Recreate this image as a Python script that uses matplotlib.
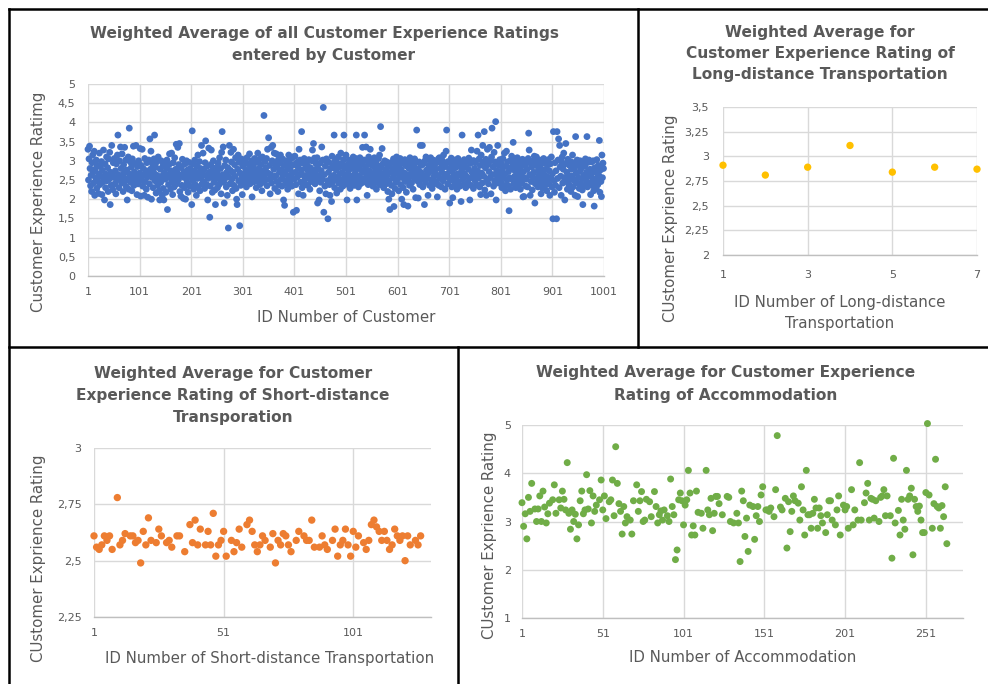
import matplotlib
matplotlib.use("Agg")
import matplotlib.pyplot as plt
from matplotlib.lines import Line2D
from matplotlib.ticker import FuncFormatter, FixedLocator

plt.rcParams['font.family'] = ['DejaVu Sans']

# ---------------- data ----------------
customer_ratings = [
    3.30, 2.50, 3.05, 3.38, 2.80, 2.35, 2.62, 2.20, 2.95, 3.15, 2.70, 2.42, 3.25, 2.10, 2.78, 2.55, 3.02, 2.28, 2.88, 2.48, 2.15, 2.66, 3.20, 2.38, 2.85,
    2.60, 2.98, 2.12, 2.75, 2.45, 3.28, 2.55, 1.98, 2.92, 2.30, 2.65, 3.10, 2.48, 2.82, 2.20, 3.05, 2.52, 3.22, 1.86, 2.70, 2.36, 3.40, 2.62, 2.25, 2.95,
    2.57, 3.06, 2.40, 2.74, 2.14, 2.92, 2.50, 3.15, 3.67, 2.64, 2.30, 3.00, 2.54, 3.36, 2.80, 2.42, 3.18, 2.60, 2.20, 2.90, 2.68, 3.35, 2.47, 3.02, 2.33,
    2.76, 1.98, 2.54, 3.10, 2.26, 3.85, 2.65, 2.97, 2.44, 2.83, 2.22, 3.05, 2.58, 3.38, 2.36, 2.71, 2.93, 2.50, 3.40, 2.62, 2.12, 2.85, 2.40, 3.00, 2.56,
    2.68, 3.32, 2.08, 2.88, 2.50, 3.30, 2.34, 2.80, 2.63, 2.10, 3.06, 2.46, 2.74, 2.26, 2.95, 2.58, 2.05, 2.66, 3.02, 2.40, 3.57, 2.78, 3.25, 2.00, 2.57,
    2.92, 2.30, 2.71, 3.05, 3.67, 2.48, 2.84, 2.16, 2.97, 2.62, 2.36, 3.10, 2.54, 2.22, 1.98, 2.78, 2.44, 3.00, 2.60, 2.10, 2.86, 2.28, 1.98, 2.68, 2.95,
    2.52, 2.18, 2.80, 3.02, 1.73, 2.64, 2.38, 2.90, 3.18, 2.56, 2.26, 2.74, 3.20, 2.45, 2.12, 2.95, 2.66, 2.32, 3.08, 2.55, 2.78, 3.43, 2.40, 2.70, 3.35,
    2.50, 2.90, 3.45, 2.20, 2.62, 2.08, 2.82, 2.36, 3.04, 2.58, 2.02, 2.70, 2.30, 2.92, 2.00, 2.54, 3.00, 2.44, 2.76, 2.18, 2.64, 2.96, 2.34, 2.80, 2.58,
    2.68, 1.86, 3.78, 2.48, 2.92, 2.26, 2.74, 3.02, 2.38, 2.62, 2.10, 2.86, 2.54, 3.15, 2.32, 2.70, 2.98, 2.22, 2.80, 2.56, 3.40, 2.40, 2.66, 3.20, 2.46,
    2.78, 2.28, 2.95, 3.52, 2.62, 2.38, 2.86, 1.98, 2.54, 3.33, 2.70, 1.53, 2.34, 2.90, 3.28, 2.58, 2.18, 2.78, 3.00, 2.44, 2.66, 2.24, 1.86, 2.82, 2.55,
    2.72, 2.30, 2.94, 2.60, 2.38, 3.08, 2.50, 2.80, 2.14, 3.22, 3.76, 2.64, 3.36, 2.44, 1.90, 2.88, 2.55, 3.02, 2.32, 2.70, 2.10, 2.82, 1.25, 2.58, 3.40,
    2.40, 2.75, 3.22, 2.97, 2.52, 2.22, 2.70, 3.30, 2.36, 2.90, 2.60, 3.08, 2.28, 2.00, 1.86, 2.78, 3.15, 2.48, 2.96, 1.31, 2.68, 2.36, 3.05, 2.56, 2.12,
    2.86, 2.64, 3.02, 2.44, 2.94, 2.54, 2.76, 2.32, 3.08, 2.60, 2.92, 2.48, 2.70, 3.18, 2.40, 2.82, 2.57, 3.00, 2.06, 2.66, 2.88, 2.45, 2.78, 3.06, 2.54,
    2.72, 2.30, 2.96, 2.62, 3.20, 2.46, 2.80, 3.04, 2.38, 2.68, 2.90, 2.56, 2.22, 3.10, 2.74, 2.44, 4.18, 2.62, 2.98, 2.50, 2.82, 3.06, 2.35, 3.30, 2.68,
    3.60, 2.52, 2.88, 2.14, 2.64, 3.35, 2.42, 3.00, 3.40, 2.58, 2.78, 3.20, 2.28, 2.93, 2.61, 3.18, 2.46, 2.84, 2.20, 3.03, 2.38, 2.70, 2.95, 3.15, 2.52,
    2.76, 2.34, 3.05, 2.63, 1.98, 2.88, 1.84, 2.48, 2.72, 3.00, 2.40, 2.85, 2.26, 2.60, 3.15, 2.94, 2.44, 2.78, 2.55, 3.06, 2.34, 2.68, 3.10, 1.66, 2.90,
    2.52, 3.12, 2.70, 2.38, 1.71, 2.96, 2.58, 2.84, 2.14, 3.30, 2.64, 3.02, 2.44, 2.76, 3.76, 2.30, 2.94, 2.10, 2.62, 3.06, 2.50, 2.80, 2.38, 2.98, 2.60,
    2.88, 2.36, 2.72, 3.03, 2.54, 2.26, 2.82, 2.64, 2.46, 3.00, 3.28, 2.56, 3.45, 2.76, 3.07, 2.40, 2.68, 2.92, 2.50, 3.08, 1.90, 2.80, 2.60, 1.98, 2.22,
    2.94, 2.44, 2.74, 3.36, 2.52, 3.02, 4.39, 1.66, 2.64, 2.34, 2.86, 2.14, 3.05, 3.00, 2.48, 1.49, 2.70, 2.96, 2.38, 2.10, 2.80, 2.56, 1.94, 3.12, 2.44,
    2.88, 2.62, 3.67, 2.30, 3.00, 2.52, 2.76, 2.16, 2.95, 2.58, 3.10, 2.42, 2.84, 2.66, 2.26, 3.20, 2.50, 2.92, 2.70, 2.34, 3.03, 3.67, 2.56, 2.82, 2.44,
    3.15, 2.64, 1.98, 2.90, 2.38, 2.74, 3.02, 2.52, 2.28, 2.86, 2.60, 2.97, 2.45, 2.80, 3.10, 2.56, 2.36, 2.94, 2.68, 3.06, 3.67, 1.98, 2.48, 2.82, 2.32,
    2.96, 2.60, 3.08, 2.40, 2.76, 2.54, 2.92, 3.35, 2.44, 2.70, 3.02, 3.67, 2.50, 2.84, 3.36, 2.62, 2.10, 2.98, 2.38, 3.10, 2.74, 2.55, 3.30, 2.90, 2.46,
    2.66, 3.03, 2.34, 2.86, 2.56, 3.08, 2.42, 2.76, 2.95, 2.26, 2.62, 2.88, 2.50, 3.06, 2.70, 3.15, 2.38, 3.89, 2.82, 2.60, 3.32, 2.48, 2.93, 2.30, 2.68,
    3.00, 2.54, 2.78, 2.40, 2.97, 2.62, 2.20, 2.87, 2.00, 2.48, 1.73, 2.70, 2.95, 2.36, 2.14, 2.80, 2.56, 3.05, 1.81, 2.66, 2.28, 2.90, 2.44, 3.10, 2.74,
    2.52, 2.97, 2.22, 2.82, 2.62, 3.06, 2.38, 2.76, 2.00, 2.93, 2.56, 2.30, 1.86, 2.68, 3.03, 2.46, 2.87, 2.18, 2.64, 2.98, 1.82, 2.50, 2.80, 2.36, 3.08,
    2.60, 2.92, 2.42, 2.72, 3.00, 2.26, 2.84, 2.56, 3.05, 2.66, 2.04, 2.95, 3.80, 2.48, 2.78, 2.03, 2.62, 2.97, 2.38, 3.40, 2.70, 2.88, 2.52, 3.40, 2.32,
    2.92, 2.62, 1.86, 3.00, 2.44, 3.10, 2.76, 2.55, 3.04, 2.10, 2.68, 2.88, 2.36, 2.82, 3.08, 2.50, 2.96, 2.28, 2.72, 3.02, 2.58, 2.40, 2.90, 2.64, 2.78,
    2.46, 2.97, 2.06, 2.62, 3.05, 2.36, 3.08, 2.80, 2.54, 2.94, 2.32, 2.70, 3.00, 2.48, 3.15, 2.84, 2.60, 2.26, 2.92, 3.25, 3.80, 2.66, 2.40, 2.98, 2.56,
    2.80, 1.90, 2.95, 2.50, 3.07, 2.32, 2.72, 2.04, 2.88, 2.62, 3.02, 2.40, 2.82, 2.55, 2.97, 2.26, 2.66, 3.06, 2.46, 2.86, 2.64, 2.34, 2.94, 1.94, 2.74,
    3.67, 2.52, 2.90, 2.38, 3.03, 2.66, 2.84, 2.30, 2.60, 2.98, 3.00, 2.44, 2.78, 3.07, 2.54, 1.98, 2.93, 2.36, 3.28, 2.70, 2.56, 3.00, 2.28, 3.00, 2.80,
    2.48, 2.95, 2.64, 2.38, 3.25, 2.74, 3.67, 2.55, 3.05, 2.32, 2.88, 2.12, 3.15, 2.68, 2.42, 3.40, 2.97, 2.60, 3.76, 2.24, 2.82, 3.04, 2.10, 2.50, 3.30,
    2.90, 2.40, 2.72, 3.35, 2.56, 3.00, 2.14, 3.10, 3.85, 2.64, 2.84, 2.34, 3.22, 2.48, 2.97, 4.02, 1.98, 2.74, 2.60, 3.40, 2.42, 2.88, 2.54, 3.03, 2.68,
    2.46, 2.93, 2.30, 2.78, 3.06, 2.58, 2.36, 3.20, 2.66, 2.22, 2.86, 3.25, 2.50, 2.97, 2.36, 2.72, 1.70, 2.56, 3.00, 2.26, 2.82, 3.12, 2.52, 2.95, 3.48,
    2.40, 2.76, 2.60, 3.05, 2.30, 2.90, 2.48, 3.08, 2.68, 2.38, 3.00, 2.55, 2.80, 2.26, 2.93, 2.62, 2.42, 3.04, 2.06, 2.72, 2.07, 2.56, 2.88, 2.34, 2.97,
    2.52, 2.78, 2.32, 3.06, 3.72, 3.28, 2.64, 2.10, 2.93, 2.46, 2.84, 2.24, 3.00, 2.56, 2.70, 3.12, 1.90, 2.40, 2.88, 3.10, 2.54, 2.96, 2.32, 2.76, 2.62,
    3.02, 2.42, 2.82, 2.14, 2.56, 2.94, 2.28, 2.68, 3.06, 2.48, 2.76, 2.36, 2.97, 2.60, 2.22, 2.88, 2.52, 3.03, 2.40, 2.74, 2.10, 2.92, 2.56, 3.10, 2.32,
    2.66, 1.49, 3.76, 2.48, 2.18, 2.95, 2.36, 2.74, 1.49, 3.76, 2.54, 3.02, 3.57, 2.30, 3.40, 2.84, 2.60, 2.10, 2.97, 3.10, 2.42, 2.78, 3.20, 2.56, 1.98,
    2.92, 3.45, 2.46, 2.70, 2.26, 3.04, 2.62, 2.38, 2.88, 2.52, 2.98, 2.20, 2.78, 2.60, 3.15, 2.32, 2.95, 2.48, 2.82, 2.10, 3.63, 2.68, 2.42, 3.02, 2.07,
    2.56, 2.88, 2.28, 2.72, 3.00, 2.40, 2.80, 2.54, 2.24, 1.86, 2.94, 2.62, 2.36, 2.86, 3.05, 2.50, 2.70, 3.63, 2.32, 2.96, 2.60, 3.02, 2.42, 2.78, 2.12,
    2.66, 2.97, 2.36, 2.54, 3.00, 2.22, 1.82, 2.82, 2.48, 2.70, 2.28, 3.03, 2.56, 2.38, 2.88, 2.62, 3.53, 2.18, 2.76, 2.46, 2.07, 3.15, 2.56, 2.94, 2.80,
]
customer_ids = list(range(1, len(customer_ratings) + 1))

long_ids = [1, 2, 3, 4, 5, 6, 7]
long_ratings = [2.91, 2.81, 2.89, 3.11, 2.84, 2.89, 2.87]

short_ids = [1, 2, 3, 4, 5, 6, 7, 8, 10, 11, 12, 13, 15, 16, 17, 18, 19, 20, 21, 22,
             23, 25, 26, 27, 29, 30, 31, 33, 34, 36, 38, 39, 40, 41, 42, 44, 45, 46, 47, 48,
             49, 50, 51, 52, 54, 55, 56, 57, 58, 60, 61, 62, 63, 64, 65, 66, 67, 69, 70, 71,
             72, 73, 74, 75, 76, 77, 79, 80, 82, 83, 84, 85, 86, 88, 89, 90, 91, 93, 94, 95,
             96, 97, 98, 99, 100, 101, 102, 103, 105, 106, 107, 108, 109, 110, 111, 112, 113, 114, 115, 116,
             117, 118, 119, 120, 121, 122, 123, 125, 126, 127]
short_ratings = [2.61, 2.56, 2.55, 2.57, 2.61, 2.59, 2.61, 2.55, 2.78, 2.57, 2.59, 2.62, 2.61, 2.61, 2.58, 2.59, 2.49, 2.63, 2.57, 2.69,
                 2.59, 2.58, 2.64, 2.61, 2.58, 2.59, 2.56, 2.61, 2.61, 2.54, 2.66, 2.58, 2.68, 2.57, 2.64, 2.57, 2.63, 2.57, 2.71, 2.52,
                 2.57, 2.59, 2.63, 2.52, 2.59, 2.54, 2.58, 2.64, 2.56, 2.66, 2.68, 2.63, 2.57, 2.54, 2.57, 2.61, 2.59, 2.56, 2.62, 2.49,
                 2.59, 2.57, 2.62, 2.61, 2.57, 2.54, 2.59, 2.63, 2.61, 2.59, 2.59, 2.68, 2.56, 2.56, 2.61, 2.57, 2.55, 2.59, 2.64, 2.52,
                 2.57, 2.59, 2.64, 2.57, 2.52, 2.63, 2.56, 2.61, 2.58, 2.55, 2.59, 2.66, 2.68, 2.65, 2.63, 2.59, 2.63, 2.59, 2.55, 2.57,
                 2.64, 2.61, 2.59, 2.61, 2.50, 2.61, 2.57, 2.59, 2.57, 2.61]

accom_ids = [1, 2, 3, 4, 5, 6, 7, 9, 10, 11, 12, 13, 14, 15, 16, 17, 18, 20, 21, 22,
             24, 25, 26, 27, 28, 29, 30, 31, 32, 33, 34, 35, 36, 37, 38, 39, 40, 41, 42, 43,
             44, 45, 46, 47, 49, 50, 51, 52, 53, 55, 56, 57, 58, 59, 60, 61, 62, 63, 64, 65,
             66, 68, 69, 70, 72, 73, 74, 75, 76, 77, 78, 80, 81, 83, 84, 85, 86, 87, 88, 89,
             91, 92, 93, 94, 95, 96, 97, 98, 99, 100, 101, 102, 103, 104, 105, 106, 107, 108, 109, 110,
             112, 113, 115, 116, 117, 118, 119, 120, 121, 122, 123, 125, 128, 129, 130, 132, 134, 135, 136, 137,
             138, 139, 140, 141, 142, 144, 145, 146, 147, 148, 149, 150, 152, 153, 154, 155, 157, 158, 159, 161,
             162, 164, 165, 166, 167, 168, 169, 170, 172, 173, 174, 175, 176, 177, 178, 179, 180, 181, 182, 183,
             184, 185, 186, 187, 189, 190, 191, 192, 193, 195, 196, 197, 198, 200, 201, 202, 203, 205, 206, 207,
             209, 210, 211, 213, 214, 215, 216, 217, 218, 219, 220, 222, 223, 224, 225, 226, 227, 229, 230, 231,
             232, 234, 235, 236, 237, 238, 239, 240, 241, 242, 243, 244, 245, 246, 247, 248, 249, 250, 251, 252,
             253, 255, 256, 257, 258, 259, 260, 261, 262, 263, 264]
accom_ratings = [3.39, 2.90, 3.16, 2.64, 3.50, 3.21, 3.79, 3.26, 3.00, 3.26, 3.53, 3.00, 3.63, 3.30, 2.97, 3.16, 3.38, 3.45, 3.76, 3.17,
                 3.45, 3.28, 3.63, 3.46, 3.24, 4.22, 3.17, 2.84, 3.24, 3.00, 3.15, 2.64, 2.93, 3.43, 3.63, 3.16, 3.24, 3.97, 3.26, 3.64,
                 2.97, 3.53, 3.21, 3.34, 3.45, 3.86, 3.24, 3.53, 3.06, 3.41, 3.45, 3.86, 3.12, 4.55, 3.79, 3.37, 3.21, 2.74, 3.31, 2.97,
                 3.10, 3.03, 2.74, 3.43, 3.76, 3.21, 3.43, 3.62, 3.00, 3.03, 3.46, 3.41, 3.10, 3.62, 3.31, 2.97, 3.14, 3.22, 3.03, 3.24,
                 3.12, 3.00, 3.88, 3.31, 3.14, 2.21, 2.41, 3.45, 3.59, 3.43, 2.93, 3.34, 3.45, 4.06, 3.59, 2.72, 2.91, 2.72, 3.63, 3.19,
                 3.17, 2.86, 4.06, 3.24, 3.14, 3.48, 2.81, 3.17, 3.52, 3.52, 3.37, 3.14, 3.52, 3.50, 3.00, 2.97, 3.17, 2.97, 2.17, 3.63,
                 3.43, 2.69, 3.07, 2.38, 3.34, 3.31, 2.63, 3.12, 3.31, 3.00, 3.55, 3.72, 3.24, 3.24, 3.21, 3.28, 3.10, 3.66, 4.78, 3.30,
                 3.24, 3.48, 2.45, 3.41, 2.79, 3.21, 3.53, 3.43, 3.38, 3.03, 3.72, 3.24, 2.72, 4.06, 3.14, 3.14, 2.86, 3.17, 3.46, 3.28,
                 2.86, 3.28, 3.12, 2.97, 2.77, 3.14, 3.43, 3.43, 3.03, 2.93, 3.24, 3.53, 2.72, 3.34, 3.24, 3.31, 2.86, 3.66, 2.93, 3.24,
                 3.03, 4.22, 3.03, 3.39, 3.59, 3.79, 3.03, 3.48, 3.46, 3.07, 3.43, 3.00, 3.50, 3.53, 3.66, 3.12, 3.53, 3.12, 2.24, 4.31,
                 2.97, 3.23, 2.72, 3.46, 3.03, 2.84, 4.06, 3.46, 3.53, 3.69, 2.31, 3.46, 3.31, 3.21, 3.32, 3.03, 2.77, 2.77, 3.60, 5.03,
                 3.55, 2.86, 3.37, 4.29, 3.31, 3.28, 2.86, 3.33, 3.10, 3.72, 2.54]

customer_xticks = [1, 101, 201, 301, 401, 501, 601, 701, 801, 901, 1001]
customer_yticks = [0, 0.5, 1, 1.5, 2, 2.5, 3, 3.5, 4, 4.5, 5]
long_xticks = [1, 3, 5, 7]
long_yticks = [2, 2.25, 2.5, 2.75, 3, 3.25, 3.5]
short_xticks = [1, 51, 101]
short_yticks = [2.25, 2.5, 2.75, 3]
accom_xticks = [1, 51, 101, 151, 201, 251]
accom_yticks = [1, 2, 3, 4, 5]

# ---------------- styling ----------------
W, H = 988, 684
TXT = '#595959'
GRID = '#d9d9d9'
TITLE_FS = 11.1
LABEL_FS = 10.8
TICK_FS = 8
fig = plt.figure(figsize=(W / 100, H / 100), dpi=100)
fig.patch.set_facecolor('white')


def rect(l, t, r, b):
    return [l / W, 1 - b / H, (r - l) / W, (b - t) / H]


def fx(x):
    return x / W


def fy(y):
    return 1 - y / H


def comma(v, pos=None):
    return ('%g' % v).replace('.', ',')


def style(ax, xticks, yticks, xlim, ylim, xpad, ypad):
    ax.set_xlim(*xlim)
    ax.set_ylim(*ylim)
    ax.xaxis.set_major_locator(FixedLocator(xticks))
    ax.yaxis.set_major_locator(FixedLocator(yticks))
    ax.yaxis.set_major_formatter(FuncFormatter(comma))
    ax.xaxis.set_major_formatter(FuncFormatter(lambda v, p: '%d' % v))
    for s in ['top', 'right', 'left']:
        ax.spines[s].set_visible(False)
    ax.spines['bottom'].set_color('#bfbfbf')
    ax.spines['bottom'].set_linewidth(1.0)
    ax.grid(True, color=GRID, linewidth=1.0)
    ax.set_axisbelow(True)
    ax.tick_params(length=0, labelsize=TICK_FS, labelcolor=TXT)
    ax.tick_params(axis='x', pad=xpad)
    ax.tick_params(axis='y', pad=ypad)
    ax.set_facecolor('none')


# ---- panel 1
ax1 = fig.add_axes(rect(88, 84, 604, 276))
ax1.scatter(customer_ids, customer_ratings, s=24, color='#4472C4', edgecolors='none', zorder=3, clip_on=False)
style(ax1, customer_xticks, customer_yticks, (1, 1001), (0, 5), 8, 9)
fig.text(fx(324), fy(44.5), 'Weighted Average of all Customer Experience Ratings\nentered by Customer',
         ha='center', va='center', fontsize=TITLE_FS, fontweight='bold', color=TXT, linespacing=1.6)
fig.text(fx(38), fy(202), 'Customer Experience Ratimg', rotation=90, ha='center', va='center', fontsize=LABEL_FS, color=TXT)
fig.text(fx(346), fy(318), 'ID Number of Customer', ha='center', va='center', fontsize=LABEL_FS, color=TXT)

# ---- panel 2
ax2 = fig.add_axes(rect(723, 107, 977, 255))
ax2.scatter(long_ids, long_ratings, s=28, color='#FFC000', edgecolors='none', zorder=3, clip_on=False)
style(ax2, long_xticks, long_yticks, (1, 7), (2, 3.5), 11, 10)
fig.text(fx(820), fy(53.5), 'Weighted Average for\nCustomer Experience Rating of\nLong-distance Transportation',
         ha='center', va='center', fontsize=TITLE_FS, fontweight='bold', color=TXT, linespacing=1.5)
fig.text(fx(670), fy(218), 'CUstomer Exprience Rating', rotation=90, ha='center', va='center', fontsize=LABEL_FS, color=TXT)
fig.text(fx(840), fy(313), 'ID Number of Long-distance\nTransportation', ha='center', va='center',
         fontsize=LABEL_FS, color=TXT, linespacing=1.45)

# ---- panel 3
ax3 = fig.add_axes(rect(94, 448, 431, 617))
ax3.scatter(short_ids, short_ratings, s=28, color='#ED7D31', edgecolors='none', zorder=3, clip_on=False)
style(ax3, short_xticks, short_yticks, (1, 131), (2.25, 3), 8, 9)
fig.text(fx(233), fy(395.5), 'Weighted Average for Customer\nExperience Rating of Short-distance\nTransporation',
         ha='center', va='center', fontsize=TITLE_FS, fontweight='bold', color=TXT, linespacing=1.55)
fig.text(fx(39), fy(558), 'CUstomer Exprience Rating', rotation=90, ha='center', va='center', fontsize=LABEL_FS, color=TXT)
fig.text(fx(270), fy(658), 'ID Number of Short-distance Transportation', ha='center', va='center', fontsize=LABEL_FS, color=TXT)

# ---- panel 4
ax4 = fig.add_axes(rect(522, 425, 963, 618))
ax4.scatter(accom_ids, accom_ratings, s=25, color='#70AD47', edgecolors='none', zorder=3, clip_on=False)
style(ax4, accom_xticks, accom_yticks, (1, 274), (1, 5), 8, 8)
fig.text(fx(726), fy(384), 'Weighted Average for Customer Experience\nRating of Accommodation',
         ha='center', va='center', fontsize=TITLE_FS, fontweight='bold', color=TXT, linespacing=1.6)
fig.text(fx(489), fy(535), 'CUstomer Exprience Rating', rotation=90, ha='center', va='center', fontsize=LABEL_FS, color=TXT)
fig.text(fx(743), fy(657), 'ID Number of Accommodation', ha='center', va='center', fontsize=LABEL_FS, color=TXT)

# ---- panel borders
borders = [
    ((9, 988), (9, 9)),
    ((9, 9), (9, 684)),
    ((638, 638), (9, 347)),
    ((9, 988), (347, 347)),
    ((458, 458), (347, 684)),
]
for xs, ys in borders:
    fig.add_artist(Line2D([fx(xs[0]), fx(xs[1])], [fy(ys[0]), fy(ys[1])], color='black', linewidth=1.8))

fig.savefig('out.png', dpi=100, facecolor='white')
